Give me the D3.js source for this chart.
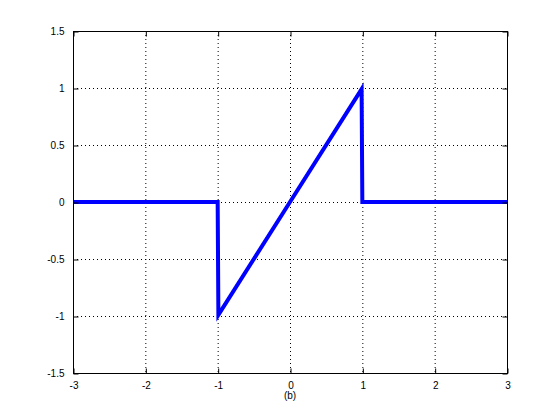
<!DOCTYPE html>
<html><head><meta charset="utf-8">
<script src="https://cdn.jsdelivr.net/npm/d3@7"></script>
<style>body{margin:0;background:#fff}svg{display:block}text{font-family:"Liberation Sans",Arial,sans-serif;font-size:10px}</style>
</head><body>
<script>
const xs = [-3, -1, -0.99, 0, 0.99, 1, 3];
const ys = [0, 0, -0.99, 0, 0.99, 0, 0];
const xTicks = [-3, -2, -1, 0, 1, 2, 3];
const yTicks = [-1.5, -1, -0.5, 0, 0.5, 1, 1.5];
const xLabel = "(b)";

const W = 560, H = 419;
const svg = d3.select("body").append("svg").attr("width", W).attr("height", H);
const x = d3.scaleLinear().domain([-3, 3]).range([73, 507]);
const y = d3.scaleLinear().domain([-1.5, 1.5]).range([373, 31]);

// grid
const g = svg.append("g");
g.selectAll(".gx").data(xTicks.slice(1, -1)).enter().append("line")
  .attr("x1", d => x(d) + 0.5).attr("x2", d => x(d) + 0.5).attr("y1", 31).attr("y2", 373)
  .attr("stroke", "#000").attr("stroke-width", 1).attr("stroke-dasharray", "1,3");
g.selectAll(".gy").data(yTicks.slice(1, -1)).enter().append("line")
  .attr("y1", d => Math.round(y(d)) + 0.5).attr("y2", d => Math.round(y(d)) + 0.5).attr("x1", 73).attr("x2", 507)
  .attr("stroke", "#000").attr("stroke-width", 1).attr("stroke-dasharray", "1,3");

// line
const pts = xs.map((v, i) => [v, ys[i]]);
svg.append("path").datum(pts)
  .attr("d", d3.line().x(d => x(d[0])).y(d => y(d[1])))
  .attr("fill", "none").attr("stroke", "#0000ff").attr("stroke-width", 4).attr("stroke-linejoin", "miter");

// box
svg.append("rect").attr("x", 73.5).attr("y", 31.5).attr("width", 434).attr("height", 342)
  .attr("fill", "none").attr("stroke", "#000").attr("stroke-width", 1);

// ticks
const xb = d3.axisBottom(x).tickValues(xTicks).tickSize(-5).tickPadding(8).tickFormat(d => String(d));
const xa = svg.append("g").attr("transform", "translate(0.5,373.5)").call(xb);
xa.select(".domain").remove();
const xt = d3.axisTop(x).tickValues(xTicks).tickSize(-5).tickFormat("");
const xta = svg.append("g").attr("transform", "translate(0.5,31.5)").call(xt);
xta.select(".domain").remove();
const yl = d3.axisLeft(y).tickValues(yTicks).tickSize(-5).tickPadding(9).tickFormat(d => String(d));
const ya = svg.append("g").attr("transform", "translate(73.5,0.5)").call(yl);
ya.select(".domain").remove();
const yr = d3.axisRight(y).tickValues(yTicks).tickSize(-5).tickFormat("");
const yra = svg.append("g").attr("transform", "translate(507.5,0.5)").call(yr);
yra.select(".domain").remove();
svg.selectAll(".tick text").attr("fill", "#000").style("font-size", "10px");

svg.append("text").attr("x", 290).attr("y", 399).attr("text-anchor", "middle").attr("fill", "#000").text(xLabel);
</script>
</body></html>
